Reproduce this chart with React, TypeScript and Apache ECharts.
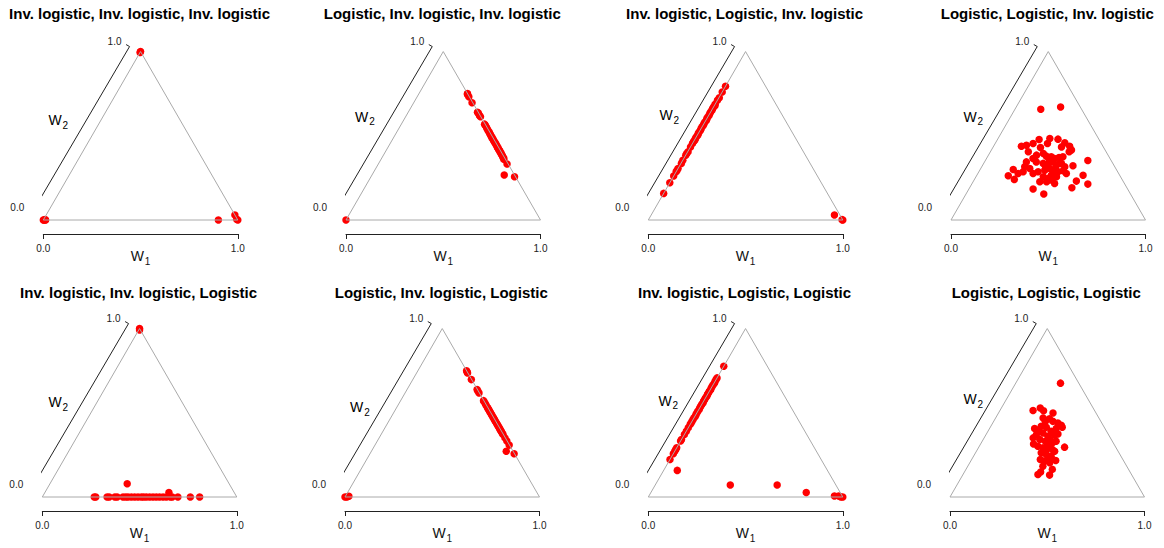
import React, { useEffect, useRef } from "react";
import * as echarts from "echarts";

// Panel titles: link functions for the three weights
const panelTitles = [
  "Inv. logistic, Inv. logistic, Inv. logistic",
  "Logistic, Inv. logistic, Inv. logistic",
  "Inv. logistic, Logistic, Inv. logistic",
  "Logistic, Logistic, Inv. logistic",
  "Inv. logistic, Inv. logistic, Logistic",
  "Logistic, Inv. logistic, Logistic",
  "Inv. logistic, Logistic, Logistic",
  "Logistic, Logistic, Logistic",
];

const axisTicks = [0, 1];
const tickLabels = ["0.0", "1.0"];

// Estimated weights [W1, W2] per panel (W3 = 1 - W1 - W2)
const invInvInv: [number, number][] = [
  [0, 1], [0, 0.995], [0, 0], [0.004, 0], [0.008, 0.002], [0.012, 0],
  [0.9, 0], [0.97, 0.03], [1, 0], [0.992, 0.004],
];

const logInvInv: [number, number][] = [
  [0.249, 0.751], [0.252, 0.745], [0.266, 0.731], [0.3, 0.696], [0.356, 0.64],
  [0.365, 0.633], [0.376, 0.62], [0.385, 0.613], [0.428, 0.569], [0.435, 0.562],
  [0.447, 0.55], [0.456, 0.54], [0.466, 0.53], [0.475, 0.522], [0.482, 0.514],
  [0.49, 0.506], [0.497, 0.498], [0.506, 0.49], [0.509, 0.485], [0.518, 0.478],
  [0.524, 0.47], [0.533, 0.463], [0.537, 0.458], [0.545, 0.451], [0.55, 0.445],
  [0.558, 0.438], [0.563, 0.431], [0.571, 0.425], [0.575, 0.419], [0.584, 0.412],
  [0.589, 0.405], [0.598, 0.398], [0.603, 0.391], [0.612, 0.383], [0.618, 0.375],
  [0.627, 0.368], [0.631, 0.36], [0.662, 0.332], [0.738, 0.257], [0.68, 0.267],
  [0, 0],
];

const invLogInv: [number, number][] = [
  [0, 0.794], [0, 0.76], [0.002, 0.726], [0, 0.711], [0, 0.687], [0.003, 0.679],
  [0, 0.671], [0, 0.66], [0.002, 0.651], [0, 0.641], [0, 0.632], [0.002, 0.622],
  [0, 0.612], [0, 0.602], [0.003, 0.592], [0, 0.582], [0, 0.572], [0.002, 0.562],
  [0, 0.553], [0, 0.543], [0.002, 0.533], [0, 0.523], [0, 0.513], [0.003, 0.503],
  [0, 0.493], [0, 0.483], [0.002, 0.474], [0, 0.464], [0, 0.454], [0, 0.434],
  [0.002, 0.405], [0, 0.395], [0, 0.385], [0, 0.355], [0.002, 0.336], [0, 0.306],
  [0, 0.296], [0, 0.286], [0, 0.261], [0, 0.221], [0, 0.158],
  [0.942, 0.03], [1, 0], [0.995, 0.002],
];

const logLogInv: [number, number][] = [
  [0.133, 0.657], [0.228, 0.671], [0.143, 0.438], [0.166, 0.444], [0.195, 0.454],
  [0.214, 0.478], [0.266, 0.484], [0.31, 0.48], [0.356, 0.458], [0.391, 0.438],
  [0.269, 0.454], [0.245, 0.43], [0.351, 0.434], [0.412, 0.415], [0.405, 0.405],
  [0.247, 0.385], [0.277, 0.395], [0.301, 0.379], [0.328, 0.375], [0.35, 0.365],
  [0.37, 0.371], [0.388, 0.375], [0.239, 0.365], [0.215, 0.345], [0.266, 0.345],
  [0.306, 0.336], [0.333, 0.332], [0.352, 0.345], [0.379, 0.326], [0.4, 0.336],
  [0.427, 0.316], [0.466, 0.322], [0.527, 0.353], [0.221, 0.316], [0.252, 0.306],
  [0.228, 0.286], [0.17, 0.3], [0.163, 0.263], [0.205, 0.241], [0.284, 0.276],
  [0.305, 0.286], [0.334, 0.296], [0.355, 0.306], [0.387, 0.276], [0.407, 0.286],
  [0.43, 0.292], [0.455, 0.276], [0.346, 0.257], [0.376, 0.247], [0.398, 0.237],
  [0.414, 0.257], [0.546, 0.266], [0.529, 0.231], [0.597, 0.213], [0.526, 0.191],
  [0.33, 0.184], [0.4, 0.154], [0.424, 0.217], [0.343, 0.227], [0.378, 0.227],
  [0.33, 0.355], [0.384, 0.306], [0.329, 0.316], [0.391, 0.336], [0.383, 0.266],
  [0.195, 0.405], [0.207, 0.276],
];

const invInvLog: [number, number][] = [
  [0, 1], [0.004, 0.992], [0.267, 0], [0.275, 0], [0.333, 0], [0.344, 0],
  [0.373, 0], [0.385, 0], [0.415, 0], [0.429, 0], [0.441, 0], [0.458, 0],
  [0.475, 0], [0.492, 0], [0.509, 0], [0.521, 0], [0.535, 0], [0.552, 0],
  [0.569, 0], [0.586, 0], [0.603, 0], [0.621, 0], [0.638, 0], [0.658, 0],
  [0.668, 0], [0.697, 0], [0.761, 0], [0.809, 0], [0.397, 0.079], [0.638, 0.026],
];

const logInvLog: [number, number][] = [
  [0.25, 0.75], [0.257, 0.742], [0.262, 0.736], [0.301, 0.697], [0.36, 0.638],
  [0.368, 0.63], [0.38, 0.618], [0.426, 0.572], [0.433, 0.565], [0.445, 0.553],
  [0.453, 0.545], [0.465, 0.533], [0.472, 0.526], [0.479, 0.519], [0.486, 0.512],
  [0.493, 0.505], [0.5, 0.498], [0.508, 0.49], [0.516, 0.482], [0.524, 0.474],
  [0.531, 0.467], [0.538, 0.46], [0.545, 0.453], [0.552, 0.446], [0.56, 0.438],
  [0.568, 0.43], [0.575, 0.423], [0.583, 0.415], [0.59, 0.408], [0.597, 0.401],
  [0.604, 0.394], [0.611, 0.387], [0.619, 0.379], [0.627, 0.371], [0.647, 0.351],
  [0.666, 0.332], [0.69, 0.308], [0.741, 0.257], [0.693, 0.272],
  [0, 0], [0.01, 0], [0.018, 0.004],
];

const invLogLog: [number, number][] = [
  [0, 0.776], [0, 0.707], [0, 0.697], [0, 0.687], [0.002, 0.677], [0, 0.667],
  [0, 0.657], [0, 0.647], [0.002, 0.637], [0, 0.628], [0, 0.618], [0, 0.608],
  [0.002, 0.598], [0, 0.588], [0, 0.578], [0, 0.568], [0.002, 0.558], [0, 0.549],
  [0, 0.539], [0, 0.529], [0.002, 0.519], [0, 0.509], [0, 0.499], [0, 0.49],
  [0.002, 0.48], [0, 0.47], [0, 0.46], [0, 0.45], [0, 0.44], [0, 0.43],
  [0, 0.411], [0, 0.391], [0, 0.371], [0, 0.341], [0, 0.332], [0, 0.292],
  [0, 0.282], [0, 0.272], [0, 0.257], [0, 0.223],
  [0.07, 0.158], [0.386, 0.071], [0.627, 0.071], [0.799, 0.026],
  [0.954, 0.006], [0.976, 0.006], [0.99, 0], [1, 0],
];

const logLogLog: [number, number][] = [
  [0.23, 0.676], [0.17, 0.514], [0.2, 0.528], [0.225, 0.512], [0.28, 0.499],
  [0.279, 0.465], [0.266, 0.449], [0.335, 0.439], [0.37, 0.414], [0.343, 0.406],
  [0.232, 0.406], [0.259, 0.42], [0.288, 0.414], [0.325, 0.39], [0.259, 0.37],
  [0.288, 0.38], [0.323, 0.361], [0.355, 0.366], [0.368, 0.374], [0.252, 0.351],
  [0.291, 0.341], [0.325, 0.331], [0.342, 0.341], [0.38, 0.331], [0.441, 0.296],
  [0.272, 0.315], [0.301, 0.301], [0.332, 0.292], [0.349, 0.307], [0.385, 0.282],
  [0.338, 0.262], [0.369, 0.252], [0.399, 0.242], [0.435, 0.217], [0.353, 0.223],
  [0.38, 0.213], [0.411, 0.203], [0.386, 0.183], [0.444, 0.164], [0.392, 0.148],
  [0.447, 0.13], [0.385, 0.134], [0.244, 0.469], [0.304, 0.449], [0.359, 0.426],
  [0.257, 0.39], [0.365, 0.321], [0.354, 0.282], [0.396, 0.233], [0.402, 0.272],
];

const panels = [
  invInvInv, logInvInv, invLogInv, logLogInv,
  invInvLog, logInvLog, invLogLog, logLogLog,
];

// ---- layout (pixels) ----
const FONT = "'Liberation Sans', Arial, Helvetica, sans-serif";
const SIDE = 194.5;
const SQ3 = Math.sqrt(3) / 2;
const HGT = SIDE * SQ3;
// bottom-left corner of each triangle
const origins: [number, number][] = [
  [43.3, 220], [346, 220], [648.3, 220], [951, 220],
  [42.3, 497], [345, 497], [648.3, 497], [950, 497],
];
const titleY = [13, 292];
// centre of the "W" of the W2 label, relative to the bottom-left corner
const w2LabelPos: [number, number][] = [
  [11.7, -100], [15.7, -103.3], [17.7, -105], [19, -103.3],
  [12.7, -94.7], [11.7, -89.7], [16.7, -96.3], [20, -98],
];

// ternary weights -> cartesian position (unit side)
const toXY = ([w1, w2]: [number, number]) => [w1 + w2 / 2, w2 * SQ3];

const subRich = {
  w: { fontSize: 14, lineHeight: 16, color: "#111", fontFamily: FONT },
  s: { fontSize: 10, lineHeight: 10, padding: [10, 0, 0, 1], color: "#111", fontFamily: FONT },
};

function buildOption() {
  const grid: any[] = [];
  const xAxis: any[] = [];
  const yAxis: any[] = [];
  const series: any[] = [];
  const graphic: any[] = [];

  const outward = [-Math.cos(Math.PI / 6), Math.sin(Math.PI / 6)]; // perpendicular to left edge, data space

  origins.forEach(([bx, by], i) => {
    const row = i < 4 ? 0 : 1;
    grid.push({ left: bx, top: by - HGT, width: SIDE, height: HGT });
    xAxis.push({
      gridIndex: i,
      type: "value",
      min: 0,
      max: 1,
      interval: 1,
      position: "bottom",
      offset: 14,
      axisLine: { show: true, onZero: false, lineStyle: { color: "#222", width: 1 } },
      axisTick: { show: true, length: 5, lineStyle: { color: "#222", width: 1 } },
      axisLabel: {
        formatter: (v: number) => tickLabels[axisTicks.indexOf(v)] ?? "",
        fontSize: 10,
        margin: 9,
        color: "#222",
        fontFamily: FONT,
      },
      splitLine: { show: false },
      name: "{w|W}{s|1}",
      nameLocation: "middle",
      nameGap: 14,
      nameMoveOverlap: false,
      nameTextStyle: { rich: subRich },
    });
    yAxis.push({ gridIndex: i, type: "value", min: 0, max: SQ3, show: false });

    // triangle outline through the three pure-weight corners
    const corners: [number, number][] = [[0, 0], [1, 0], [0, 1], [0, 0]];
    series.push({
      type: "line",
      xAxisIndex: i,
      yAxisIndex: i,
      data: corners.map(toXY),
      symbol: "none",
      silent: true,
      clip: false,
      lineStyle: { color: "#aaaaaa", width: 1 },
    });

    // W2 axis bracket parallel to the left edge, with outward end ticks
    const off = (p: number[], dx: number, dy: number) => [p[0] + dx / SIDE, p[1] + dy / SIDE];
    const lo = off(toXY([0, 0]), -12, 6);
    const hi = off(toXY([0, 1]), -11, 5);
    const tk = 4 / SIDE;
    series.push({
      type: "line",
      xAxisIndex: i,
      yAxisIndex: i,
      data: [
        [lo[0] + outward[0] * tk, lo[1] + outward[1] * tk],
        lo,
        hi,
        [hi[0] + outward[0] * tk, hi[1] + outward[1] * tk],
      ],
      symbol: "none",
      silent: true,
      clip: false,
      lineStyle: { color: "#222", width: 1 },
    });

    series.push({
      type: "scatter",
      xAxisIndex: i,
      yAxisIndex: i,
      data: panels[i].map(toXY),
      symbol: "circle",
      symbolSize: 7.5,
      clip: false,
      itemStyle: { color: "#ff0000", opacity: 1 },
    });

    graphic.push({
      type: "text",
      x: bx + SIDE / 2 - 1,
      y: titleY[row],
      silent: true,
      style: {
        text: panelTitles[i],
        font: `bold 15px ${FONT}`,
        fill: "#000",
        align: "center",
        verticalAlign: "middle",
      },
    });
    graphic.push({
      type: "text",
      x: bx - 26,
      y: by - 13,
      silent: true,
      style: { text: tickLabels[0], font: `10px ${FONT}`, fill: "#222", align: "center", verticalAlign: "middle" },
    });
    graphic.push({
      type: "text",
      x: bx + SIDE / 2 - 26,
      y: by - HGT - 10,
      silent: true,
      style: { text: tickLabels[1], font: `10px ${FONT}`, fill: "#222", align: "center", verticalAlign: "middle" },
    });
    const [lx, ly] = w2LabelPos[i];
    graphic.push({
      type: "text",
      x: bx + lx - 6.6,
      y: by + ly,
      silent: true,
      style: { text: "{w|W}{s|2}", rich: subRich, align: "left", verticalAlign: "middle" },
    });
  });

  return {
    animation: false,
    backgroundColor: "#ffffff",
    grid,
    xAxis,
    yAxis,
    series,
    graphic,
  };
}

export default function App() {
  const ref = useRef<HTMLDivElement>(null);
  useEffect(() => {
    if (!ref.current) return;
    const chart = echarts.init(ref.current, undefined, { renderer: "svg" });
    chart.setOption(buildOption() as any);
    return () => chart.dispose();
  }, []);
  return (
    <div
      ref={ref}
      style={{ position: "absolute", left: 0, top: 0, width: 1164, height: 548, background: "#fff" }}
    />
  );
}
